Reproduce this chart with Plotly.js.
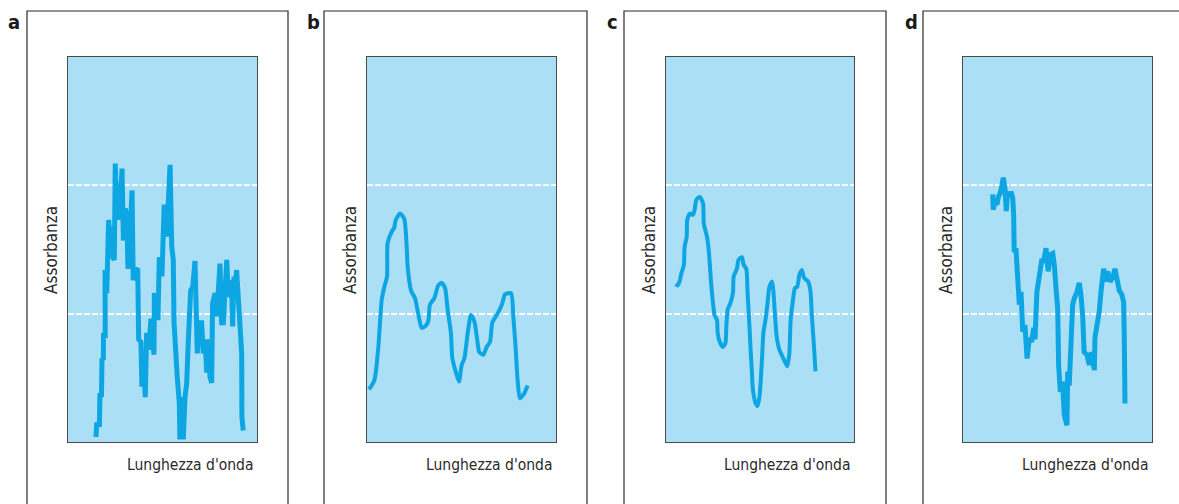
<!DOCTYPE html>
<html>
<head>
<meta charset="utf-8">
<script src="https://cdn.plot.ly/plotly-3.0.1.min.js"></script>
<style>html,body{margin:0;padding:0;background:#fff;}#chart{width:1179px;height:504px;}</style>
</head>
<body>
<div id="chart"></div>
<script>
// Wavelength (arbitrary units 0-100) and absorbance (0-3) for each spectrum
const panelLabels = ["a", "b", "c", "d"];
const yTitle = "Assorbanza";
const xTitle = "Lunghezza d'onda";
const gridLevels = [0, 1, 2];

const aX = [14.8,15.2,16.6,16.9,17.7,18.0,18.7,18.8,19.7,19.6,20.5,21.0,21.5,22.2,22.7,23.6,24.5,25.0,25.8,26.5,27.1,27.7,28.6,29.3,30.3,31.2,31.7,32.8,33.9,34.5,35.6,36.9,37.4,38.6,39.1,39.8,40.9,41.6,42.7,43.9,44.8,45.5,45.7,46.9,47.6,48.3,49.7,50.9,52.2,54.0,54.9,55.7,56.1,56.6,57.8,58.9,59.2,60.1,61.0,61.9,62.8,63.6,64.9,66.0,67.2,67.7,68.4,69.5,70.7,71.6,72.5,73.4,74.2,75.1,76.0,76.5,77.8,78.7,79.5,80.4,81.3,82.2,83.1,84.0,84.8,85.7,86.6,87.1,87.8,88.3,89.2,90.1,91.0,91.9,92.0,92.7];
const aY = [0.04,0.15,0.12,0.38,0.35,0.65,0.64,0.85,0.81,1.34,1.16,1.37,1.73,1.55,1.68,1.44,1.42,2.17,1.76,2.02,1.73,1.89,2.13,1.57,1.82,1.76,1.35,1.63,1.96,1.26,1.35,1.34,0.80,0.78,0.43,0.66,0.35,0.85,0.72,0.96,0.82,0.68,1.16,1.08,0.95,1.44,1.29,1.85,1.60,2.16,1.52,1.42,0.93,0.74,0.51,0.30,0.02,0.35,0.02,0.35,0.46,0.77,1.18,1.21,1.41,1.11,0.69,0.93,0.93,0.69,0.80,0.54,0.80,0.51,0.46,1.08,1.16,0.98,1.13,1.39,0.93,0.93,1.18,1.42,1.13,1.26,1.18,0.90,1.29,1.16,1.34,1.13,0.90,0.69,0.20,0.09];

const bX = [1.1,3.9,6.0,7.8,9.2,10.6,10.9,13.1,14.4,15.2,17.5,19.7,21.0,21.5,23.3,25.4,27.1,28.9,30.7,32.4,33.3,35.6,37.7,39.5,41.3,42.7,44.4,45.1,46.9,48.7,50.1,51.5,53.3,55.0,56.8,58.2,59.4,61.6,63.3,65.1,66.3,69.1,71.6,73.0,76.2,77.4,78.7,79.7,80.9,83.2,85.0];
const bY = [0.41,0.48,0.74,1.11,1.21,1.29,1.55,1.64,1.67,1.73,1.78,1.74,1.52,1.37,1.18,1.12,1.00,0.89,0.90,0.94,1.07,1.12,1.22,1.24,1.20,1.03,0.85,0.66,0.55,0.47,0.60,0.65,0.85,0.99,0.94,0.81,0.70,0.68,0.74,0.78,0.93,1.00,1.08,1.15,1.16,0.98,0.72,0.48,0.34,0.38,0.44];

const cX = [5.1,6.3,7.4,8.1,9.5,9.9,11.0,11.3,12.7,14.4,15.2,16.2,18.0,19.7,20.1,21.8,22.7,24.0,25.0,25.8,27.1,27.5,28.6,30.3,31.6,32.1,32.8,34.2,35.6,36.0,37.7,38.6,40.4,41.3,42.7,43.4,44.4,45.1,45.7,46.2,47.5,48.7,49.7,50.4,51.2,51.8,52.9,54.0,55.0,56.4,57.1,58.0,58.9,60.3,61.5,62.8,64.5,65.6,66.3,67.3,68.6,69.8,70.9,72.3,73.4,75.6,76.8,77.6,78.6,79.5];
const cY = [1.23,1.22,1.26,1.31,1.38,1.52,1.60,1.73,1.78,1.77,1.81,1.89,1.91,1.86,1.70,1.60,1.50,1.24,1.08,0.99,0.95,0.85,0.78,0.74,0.77,0.90,1.03,1.08,1.16,1.29,1.35,1.42,1.44,1.38,1.35,1.16,0.90,0.69,0.54,0.41,0.31,0.28,0.35,0.48,0.69,0.85,0.95,1.08,1.21,1.25,1.18,0.98,0.82,0.72,0.68,0.64,0.59,0.69,0.95,1.08,1.20,1.21,1.30,1.34,1.28,1.25,1.18,0.98,0.77,0.55];

const dX = [15.7,16.0,16.9,18.0,18.7,19.7,20.5,21.3,22.2,22.9,23.6,24.5,25.4,26.3,26.8,27.1,28.0,28.9,29.8,30.7,31.6,32.8,33.9,35.1,36.3,37.4,38.1,39.1,40.4,41.6,42.7,43.9,45.1,46.2,47.5,48.3,49.2,50.1,50.6,51.5,52.7,53.6,55.0,55.4,56.2,57.1,58.0,58.9,60.3,61.5,62.4,63.3,64.1,65.6,66.8,68.0,69.5,69.8,71.3,72.1,73.0,74.4,75.6,76.5,77.9,79.2,80.4,81.5,82.7,84.0,85.0,85.3,85.7];
const dY = [1.93,1.81,1.87,1.85,1.91,1.94,1.99,2.06,1.98,1.80,1.95,1.91,1.95,1.90,1.77,1.48,1.51,1.30,1.07,1.17,0.86,0.91,0.65,0.81,0.78,0.89,0.80,1.17,1.30,1.41,1.41,1.51,1.33,1.46,1.47,1.38,1.20,1.04,0.60,0.39,0.47,0.21,0.13,0.55,0.44,0.70,1.07,1.12,1.17,1.24,1.15,0.99,0.70,0.68,0.60,0.70,0.56,0.81,0.94,1.02,1.17,1.35,1.25,1.33,1.25,1.28,1.35,1.24,1.18,1.15,1.09,0.86,0.30];

const W = 1179, H = 504;
const lineColor = "#0ea6e2";
const bgColor = "#abdff5";
const font = "'DejaVu Sans Condensed', 'Liberation Sans Narrow', sans-serif";

// plot-area pixel geometry [left, right], shared top/bottom
const plotPx = [[68, 257], [367, 556], [666, 854], [963, 1152]];
const plotTop = 57, plotBottom = 442;
const boxPx = [[27, 288], [324, 587], [624, 886], [923, 1240]];
const labelPx = [14, 313, 612, 911];

const series = [[aX, aY, 5, "linear"], [bX, bY, 4, "spline"], [cX, cY, 4, "spline"], [dX, dY, 5, "linear"]];

const traces = [];
const layout = {
  width: W, height: H,
  margin: {l: 0, r: 0, t: 0, b: 0},
  paper_bgcolor: "#ffffff",
  plot_bgcolor: "rgba(0,0,0,0)",
  showlegend: false,
  shapes: [],
  annotations: []
};

series.forEach((s, i) => {
  const n = i === 0 ? "" : String(i + 1);
  traces.push({
    x: s[0], y: s[1], type: "scatter", mode: "lines",
    xaxis: "x" + n, yaxis: "y" + n,
    line: {color: lineColor, width: s[2], shape: s[3], smoothing: 0.6},
    hoverinfo: "skip"
  });
  const dom = [plotPx[i][0] / W, plotPx[i][1] / W];
  layout["xaxis" + n] = {
    domain: dom, range: [0, 100], showgrid: false, zeroline: false,
    showticklabels: false, ticks: "", showline: true, mirror: true,
    linecolor: "#4a4a4a", linewidth: 1, anchor: "y" + n, fixedrange: true
  };
  layout["yaxis" + n] = {
    domain: [1 - plotBottom / H, 1 - plotTop / H], range: [0, 3],
    tickvals: gridLevels, showticklabels: false, ticks: "",
    showgrid: true, gridcolor: "#ffffff", gridwidth: 2, griddash: "6px,2px",
    zeroline: false, showline: true, mirror: true,
    linecolor: "#4a4a4a", linewidth: 1, anchor: "x" + n, fixedrange: true
  };
  // outer frame
  layout.shapes.push({
    type: "rect", xref: "paper", yref: "paper",
    x0: boxPx[i][0] / W, x1: boxPx[i][1] / W,
    y0: -0.2, y1: 1 - 11 / H,
    line: {color: "#2a2a2a", width: 1.2}, fillcolor: "rgba(0,0,0,0)", layer: "below"
  });
  // plot background
  layout.shapes.push({
    type: "rect", xref: "paper", yref: "paper",
    x0: dom[0], x1: dom[1], y0: 1 - plotBottom / H, y1: 1 - plotTop / H,
    line: {width: 0}, fillcolor: bgColor, layer: "below"
  });
  // panel letter
  layout.annotations.push({
    text: "<b>" + panelLabels[i] + "</b>", xref: "paper", yref: "paper",
    x: labelPx[i] / W, y: 1 - 22 / H, xanchor: "center", yanchor: "middle",
    showarrow: false, font: {family: font, size: 20, color: "#1a1a1a"}
  });
  // y title
  layout.annotations.push({
    text: yTitle, xref: "paper", yref: "paper",
    x: (plotPx[i][0] - 17) / W, y: 1 - 250 / H, textangle: -90,
    xanchor: "center", yanchor: "middle", showarrow: false,
    font: {family: font, size: 17, color: "#2a2a2a"}
  });
  // x title
  layout.annotations.push({
    text: xTitle, xref: "paper", yref: "paper",
    x: (plotPx[i][1] - 1) / W, y: 1 - 465 / H,
    xanchor: "right", yanchor: "middle", showarrow: false,
    font: {family: font, size: 15.5, color: "#2a2a2a"}
  });
});

Plotly.newPlot("chart", traces, layout, {staticPlot: true, displayModeBar: false});
</script>
</body>
</html>
